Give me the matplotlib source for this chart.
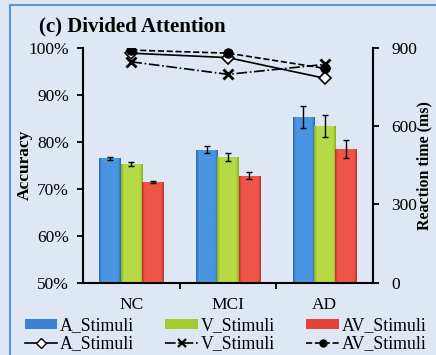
import matplotlib
matplotlib.use("Agg")
import matplotlib.pyplot as plt
import numpy as np
from matplotlib.lines import Line2D
from matplotlib.patches import Patch
from matplotlib.colors import LinearSegmentedColormap

plt.rcParams['font.family'] = ['Liberation Serif', 'DejaVu Serif']

groups = ["NC", "MCI", "AD"]
series = ["A_Stimuli", "V_Stimuli", "AV_Stimuli"]
acc_A = [76.5, 78.3, 85.2]
acc_V = [75.2, 76.7, 83.3]
acc_AV = [71.5, 72.8, 78.4]
err_A = [0.35, 0.8, 2.3]
err_V = [0.4, 0.8, 2.4]
err_AV = [0.2, 0.75, 1.9]
rt_A = [879, 862, 783]
rt_V = [846, 798, 836]
rt_AV = [891, 879, 821]

bg = "#dfe7f5"
bar_colors = ["#3c82d2", "#a4cc30", "#e2443a"]
grad = [("#2c68b0", "#4a95e2", "#2c68b0"),
        ("#86ad1c", "#b6da46", "#86ad1c"),
        ("#c0302a", "#ee5548", "#c0302a")]

fig = plt.figure(figsize=(4.36, 3.55), dpi=100, facecolor=bg)
ax = fig.add_axes([0.1904, 0.2037, 0.6651, 0.6619])
ax.set_facecolor('none')
ax2 = ax.twinx()

x = np.arange(len(groups))
w = 0.22
offs = [-0.22, 0.0, 0.22]
accs = [acc_A, acc_V, acc_AV]
errs = [err_A, err_V, err_AV]
gimg = np.linspace(0, 1, 64).reshape(1, -1)
for i in range(3):
    b = ax.bar(x + offs[i], accs[i], w, bottom=0, color=bar_colors[i],
               yerr=errs[i], capsize=2.5,
               error_kw=dict(ecolor='black', elinewidth=1, capthick=1, zorder=4),
               zorder=2)
    cmap = LinearSegmentedColormap.from_list(f"g{i}", [(0, grad[i][0]), (0.12, grad[i][1]),
                                                        (0.5, grad[i][1]), (0.88, grad[i][1]),
                                                        (1, grad[i][2])])
    for p in b.patches:
        x0 = p.get_x()
        im = ax.imshow(gimg, cmap=cmap, aspect='auto', zorder=2.5,
                       extent=[x0, x0 + p.get_width(), 50, p.get_height()],
                       interpolation='bilinear')
        im.set_clip_path(p)

ax.set_ylim(50, 100)
ax.set_xlim(-0.5, 2.5)
ax.set_yticks([50, 60, 70, 80, 90, 100])
ax.set_yticklabels([f"{v}%" for v in [50, 60, 70, 80, 90, 100]])
ax.set_xticks(x)
ax.set_xticklabels(groups)
ax.set_xticks([0.5, 1.5], minor=True)
ax.tick_params(axis='x', which='major', length=0, pad=10, labelsize=12.5)
ax.tick_params(axis='x', which='minor', length=4, width=1.3, direction='out')
ax.tick_params(axis='y', length=4, width=1.3, direction='out', pad=6, labelsize=12.5)
ax.set_ylabel("Accuracy", fontsize=12.5, fontweight='bold')
ax.yaxis.set_label_coords(-0.172, 0.5)

for s in ['top', 'right']:
    ax.spines[s].set_visible(False)
for s in ['left', 'bottom']:
    ax.spines[s].set_linewidth(1.5)

ax2.plot(x, rt_A, color='black', lw=1.2, ls='-', marker='D', ms=6,
         mfc='white', mec='black', mew=1.2, zorder=3)
ax2.plot(x, rt_V, color='black', lw=1.2, ls='-.', marker='x', ms=7,
         mec='black', mew=2, zorder=3)
ax2.plot(x, rt_AV, color='black', lw=1.2, ls='--', marker='o', ms=6.5,
         mfc='black', mec='black', zorder=3)
ax2.set_ylim(0, 900)
ax2.set_yticks([0, 300, 600, 900])
ax2.tick_params(axis='y', length=4, width=1.3, direction='out', pad=9, labelsize=12.5)
for s in ['top', 'left', 'bottom']:
    ax2.spines[s].set_visible(False)
ax2.spines['right'].set_linewidth(1.5)
ax2.set_ylabel("Reaction time (ms)", fontsize=11.5, fontweight='bold')
ax2.yaxis.set_label_coords(1.15, 0.5)

fig.text(0.09, 0.91, "(c) Divided Attention", fontsize=15, fontweight='bold')

handles = [
    Patch(facecolor=bar_colors[0]),
    Line2D([], [], color='black', lw=1.2, ls='-', marker='D', ms=5, mfc='white', mec='black'),
    Patch(facecolor=bar_colors[1]),
    Line2D([], [], color='black', lw=1.2, ls='-.', marker='x', ms=6, mew=1.6, mec='black'),
    Patch(facecolor=bar_colors[2]),
    Line2D([], [], color='black', lw=1.2, ls='--', marker='o', ms=5, mfc='black', mec='black'),
]
labels = [series[0], series[0], series[1], series[1], series[2], series[2]]
fig.legend(handles, labels, ncol=3, loc='lower left', bbox_to_anchor=(0.04, -0.012),
           frameon=False, fontsize=12.8, handlelength=1.85, handleheight=0.45,
           handletextpad=0.15, columnspacing=1.75, labelspacing=0.05, borderaxespad=0)

fig.add_artist(Line2D([10/436, 10/436], [0, 1 - 5/355], color="#5b95d6", lw=1.5))
fig.add_artist(Line2D([10/436, 1], [1 - 5/355, 1 - 5/355], color="#5b95d6", lw=1.5))

fig.savefig("out.png", dpi=100, facecolor=bg)
